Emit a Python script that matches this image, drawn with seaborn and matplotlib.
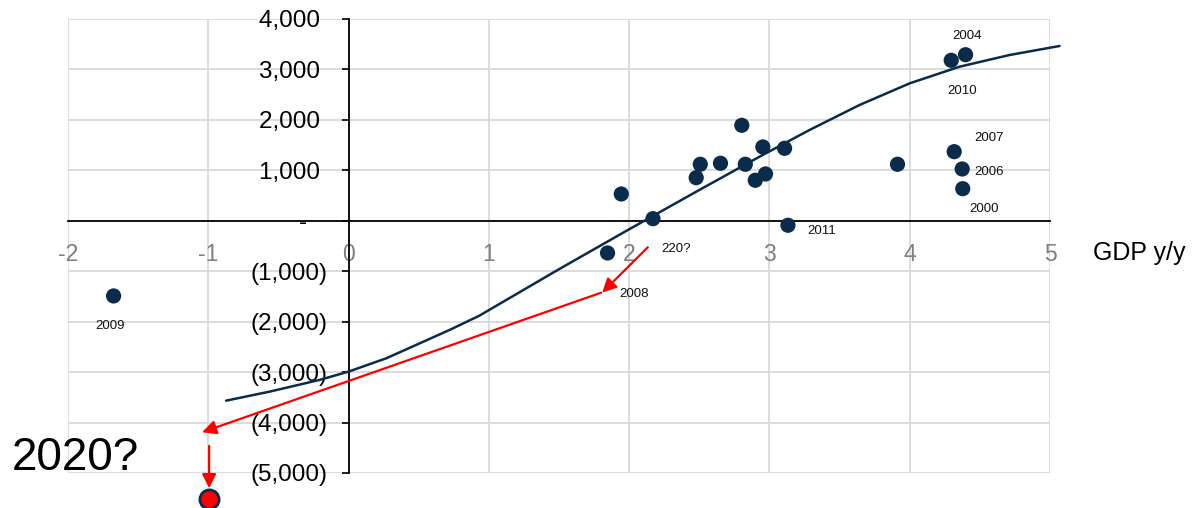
import numpy as np
import pandas as pd
import matplotlib
matplotlib.use("Agg")
import matplotlib.pyplot as plt
from matplotlib.ticker import FuncFormatter
import seaborn as sns

# ── data ───────────────────────────────────────────────────────────────
gdp_yy = [-1.675, 1.944, 2.170, 1.846, 2.478, 2.507, 2.651, 2.803, 2.828, 2.899,
          2.953, 2.972, 3.108, 3.132, 3.913, 4.296, 4.398, 4.317, 4.374, 4.378]
change = [-1490, 531, 42, -638, 854, 1120, 1140, 1893, 1120, 803,
          1463, 928, 1437, -89, 1120, 3181, 3292, 1370, 1027, 636]

# fitted curve
curve_x = [-0.873, -0.563, -0.207, 0.0, 0.27, 0.72, 0.93, 1.5, 1.98, 2.5,
           2.929, 3.286, 3.642, 4.0, 4.355, 4.711, 5.068]
curve_y = [-3566, -3387, -3155, -2990, -2725, -2164, -1885, -960, -200, 610,
           1270, 1800, 2295, 2725, 3054, 3286, 3465]

# year labels (text, x, y)
year_labels = ["2004", "2010", "2007", "2006", "2000", "2011", "220?", "2008", "2009"]
label_x = [4.407, 4.372, 4.565, 4.565, 4.529, 3.376, 2.336, 2.038, -1.703]
label_y = [3657, 2565, 1633, 958, 232, -212, -550, -1442, -2083]

# red path towards the 2020 guess
arrow_from_x = [2.133, 1.801, -0.994]
arrow_from_y = [-525, -1425, -4463]
arrow_to_x = [1.808, -1.044, -0.994]
arrow_to_y = [-1425, -4192, -5302]
guess_x = [-0.995]
guess_y = [-5522]

x_ticks = [-2, -1, 0, 1, 2, 3, 4, 5]
y_ticks = [-5000, -4000, -3000, -2000, -1000, 0, 1000, 2000, 3000, 4000]

navy = "#0b2b4b"

sns.set_theme(style="white")
plt.rcParams["font.family"] = ["Liberation Sans", "DejaVu Sans"]
plt.rcParams["axes.unicode_minus"] = False

fig = plt.figure(figsize=(12.04, 5.08), dpi=100)
ax = fig.add_axes([68 / 1204, 35 / 508, 982 / 1204, 454 / 508])

pts = pd.DataFrame({"gdp": gdp_yy, "change": change})
fit = pd.DataFrame({"gdp": curve_x, "change": curve_y})

sns.lineplot(data=fit, x="gdp", y="change", sort=False, estimator=None,
             color=navy, linewidth=1.8, ax=ax, clip_on=False, zorder=4)
sns.scatterplot(data=pts, x="gdp", y="change", color=navy, s=120,
                edgecolor="none", ax=ax, zorder=5)

for t, lx, ly in zip(year_labels, label_x, label_y):
    ax.text(lx, ly, t, fontsize=9.5, ha="center", va="center", color="#111111")

# red arrows
for x0, y0, x1, y1 in zip(arrow_from_x, arrow_from_y, arrow_to_x, arrow_to_y):
    ax.annotate("", xy=(x1, y1), xytext=(x0, y0),
                arrowprops=dict(arrowstyle="-|>,head_length=0.6,head_width=0.3",
                                color="red", lw=1.6, mutation_scale=14,
                                shrinkA=0, shrinkB=0),
                annotation_clip=False, zorder=6)
ax.scatter(guess_x, guess_y, s=190, color="red", edgecolor=navy,
           linewidth=2.0, zorder=7, clip_on=False)

ax.text(-2.404, -4696, "2020?", fontsize=33, ha="left", va="center",
        color="black")
fig.text(1093 / 1204, 1 - 253 / 508, "GDP y/y", fontsize=18, ha="left",
         va="center", color="black")

# axes
ax.set_xlim(-2, 5)
ax.set_ylim(-5000, 4000)
ax.set_xticks(x_ticks)
ax.set_yticks(y_ticks)
ax.set_xlabel("")
ax.set_ylabel("")


# accounting style labels, like excel
def acct(v, pos):
    if v == 0:
        return "-   "
    if v < 0:
        return f"({abs(v):,.0f})"
    return f"{v:,.0f} "


ax.yaxis.set_major_formatter(FuncFormatter(acct))
ax.grid(True, color="#d9d9d9", linewidth=1.3)
ax.set_axisbelow(True)

for side in ["top", "right"]:
    ax.spines[side].set_visible(False)
ax.spines["left"].set_position(("data", 0))
ax.spines["bottom"].set_position(("data", 0))
for side in ["left", "bottom"]:
    ax.spines[side].set_color("black")
    ax.spines[side].set_linewidth(1.3)
    ax.spines[side].set_zorder(3)

ax.tick_params(axis="x", length=0, pad=16, labelsize=16.5, labelcolor="#7f7f7f")
ax.tick_params(axis="y", direction="out", length=5.4, width=1.2, color="black",
               pad=10, labelsize=17.5, labelcolor="black", left=True)

fig.savefig("out.png", dpi=100)
